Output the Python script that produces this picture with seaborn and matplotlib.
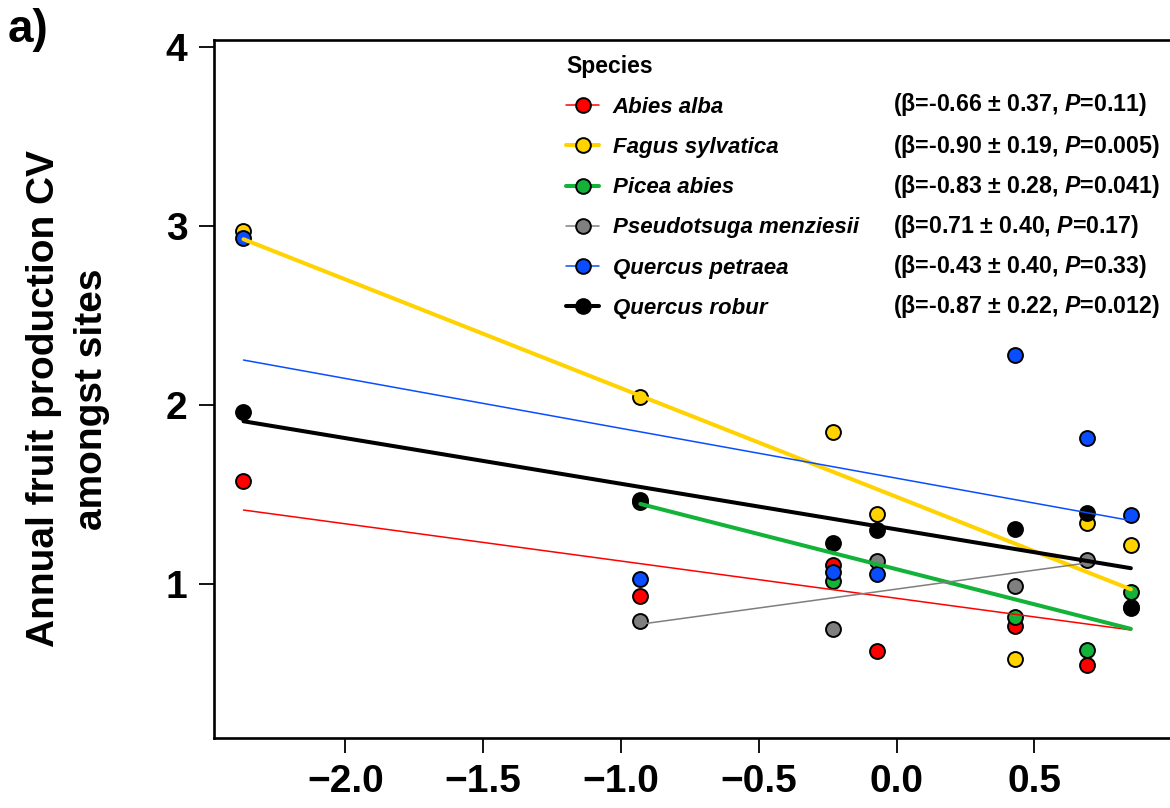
import matplotlib
matplotlib.use("Agg")
import matplotlib.pyplot as plt
from matplotlib.lines import Line2D
import seaborn as sns
import pandas as pd

# ---------------- data ----------------
species = ["Abies alba", "Fagus sylvatica", "Picea abies",
           "Pseudotsuga menziesii", "Quercus petraea", "Quercus robur"]
colors = ["#FF0000", "#FFD200", "#13B33A", "#7F7F7F", "#0A4DFF", "#000000"]
significant = [False, True, True, False, False, True]
stats = ["(β=-0.66 ± 0.37, $P$=0.11)",
         "(β=-0.90 ± 0.19, $P$=0.005)",
         "(β=-0.83 ± 0.28, $P$=0.041)",
         "(β=0.71 ± 0.40, $P$=0.17)",
         "(β=-0.43 ± 0.40, $P$=0.33)",
         "(β=-0.87 ± 0.22, $P$=0.012)"]

abies_x = [-2.37, -0.93, -0.23, -0.07, 0.43, 0.69, 0.85]
abies_y = [1.575, 0.933, 1.106, 0.626, 0.765, 0.547, 0.87]
fagus_x = [-2.37, -0.93, -0.23, -0.07, 0.43, 0.69, 0.85]
fagus_y = [2.972, 2.045, 1.849, 1.391, 0.579, 1.339, 1.218]
picea_x = [-0.93, -0.23, 0.43, 0.69, 0.85]
picea_y = [1.46, 1.017, 0.814, 0.631, 0.957]
pseudo_x = [-0.93, -0.23, -0.07, 0.43, 0.69]
pseudo_y = [0.793, 0.749, 1.128, 0.989, 1.134]
qpet_x = [-2.37, -0.93, -0.23, -0.07, 0.43, 0.69, 0.85]
qpet_y = [2.933, 1.028, 1.069, 1.056, 2.279, 1.817, 1.385]
qrob_x = [-2.37, -0.93, -0.23, -0.07, 0.43, 0.69, 0.85]
qrob_y = [1.961, 1.469, 1.229, 1.302, 1.307, 1.398, 0.866]

# fitted line values at the species' min and max x
fit_start = [1.413, 2.926, 1.447, 0.775, 2.251, 1.909]
fit_end = [0.743, 0.970, 0.749, 1.117, 1.354, 1.088]

xs = [abies_x, fagus_x, picea_x, pseudo_x, qpet_x, qrob_x]
ys = [abies_y, fagus_y, picea_y, pseudo_y, qpet_y, qrob_y]

xticks = [-2.0, -1.5, -1.0, -0.5, 0.0, 0.5]
yticks = [1, 2, 3, 4]

# ---------------- style ----------------
sns.set_style("ticks")
plt.rcParams["font.family"] = ["Liberation Sans", "DejaVu Sans"]
plt.rcParams["mathtext.fontset"] = "custom"
plt.rcParams["mathtext.it"] = "Liberation Sans:italic:bold"
plt.rcParams["mathtext.rm"] = "Liberation Sans:bold"
for k in ["text.color", "axes.labelcolor", "xtick.color", "ytick.color",
          "axes.edgecolor"]:
    plt.rcParams[k] = "black"

W, H = 1170, 808
fig = plt.figure(figsize=(W / 100, H / 100), dpi=100)
ax_l, ax_b = 214 / W, 1 - 737.7 / H
ax = fig.add_axes([ax_l, ax_b, 1.0 - ax_l, (737.7 - 40) / H])

pts = pd.DataFrame({
    "x": sum(xs, []),
    "y": sum(ys, []),
    "sp": sum([[s] * len(x) for s, x in zip(species, xs)], []),
})

for i, sp in enumerate(species):
    sub = pts[pts.sp == sp]
    sns.scatterplot(data=sub, x="x", y="y", color=colors[i], s=115,
                    edgecolor="black", linewidth=1.4, ax=ax, zorder=2 + i * 0.01,
                    legend=False)

for i, sp in enumerate(species):
    line = pd.DataFrame({"x": [min(xs[i]), max(xs[i])],
                         "y": [fit_start[i], fit_end[i]]})
    sns.lineplot(data=line, x="x", y="y", color=colors[i],
                 linewidth=2.9 if significant[i] else 1.1, ax=ax, zorder=3,
                 legend=False)

ax.set_xlim(-2.477, 0.992)
ax.set_ylim(0.141, 4.039)
ax.set_xticks(xticks)
ax.set_yticks(yticks)
ax.set_xticklabels([f"{t:.1f}".replace("-", "\u2212") for t in xticks])
ax.set_yticklabels([str(t) for t in yticks])
for lab in ax.get_xticklabels() + ax.get_yticklabels():
    lab.set_fontsize(28)
    lab.set_fontweight("bold")
    lab.set_color("black")
ax.tick_params(axis="both", length=11, width=1.3, pad=8, color="black")
for side in ["left", "bottom", "top"]:
    ax.spines[side].set_linewidth(1.9)
    ax.spines[side].set_color("black")
ax.spines["right"].set_visible(False)

ax.set_xlabel("")
ax.set_ylabel("Annual fruit production CV\namongst sites", fontsize=28,
              fontweight="bold", va="center", color="black",
              multialignment="center", linespacing=1.4)
ax.yaxis.set_label_coords((68 - 214) / (W - 214), (737.7 - 399) / 697.7)

# legend
handles = [Line2D([], [], color=c, lw=2.9 if sg else 1.1, marker="o",
                  markersize=10.6, markerfacecolor=c, markeredgecolor="black",
                  markeredgewidth=1.4)
           for c, sg in zip(colors, significant)]
leg = ax.legend(handles, species, loc="upper left",
                bbox_to_anchor=(566 / W, 1 - 55 / H),
                bbox_transform=fig.transFigure, frameon=False,
                title="Species", alignment="left",
                title_fontproperties={"weight": "bold", "size": 16.5},
                prop={"weight": "bold", "style": "italic", "size": 16},
                handlelength=1.5, handletextpad=0.6, labelspacing=0.86,
                borderaxespad=0, borderpad=0)
for t in leg.get_texts():
    t.set_color("black")
leg.get_title().set_color("black")

row_y = [105, 146, 186, 226, 266, 307]
for txt, ry in zip(stats, row_y):
    fig.text(893 / W, 1 - ry / H, txt, fontsize=16.7, fontweight="bold",
             va="center", ha="left", color="black")

fig.text(8 / W, 1 - 30 / H, "a)", fontsize=33, fontweight="bold",
         va="center", ha="left", color="black")

fig.savefig("out.png", dpi=100)
